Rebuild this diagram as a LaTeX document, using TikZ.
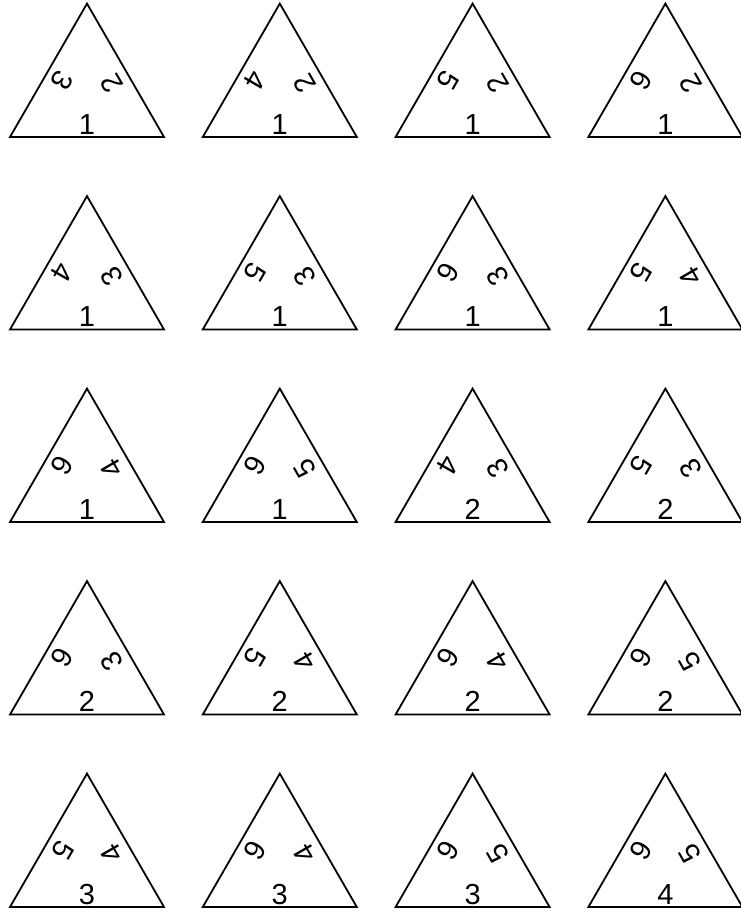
\documentclass[tikz,border=0pt]{standalone}
\usepackage{fontspec}
\setmainfont{Liberation Sans}
\usetikzlibrary{calc}
\begin{document}
\begin{tikzpicture}[x=1pt,y=1pt,
  tri/.style={draw=black,line width=1.8pt,line join=miter},
  num/.style={inner sep=0pt,font=\fontsize{29}{33}\selectfont}]
\useasboundingbox (0,-914) rectangle (740,0);
\foreach \b/\r/\l [count=\i from 0] in {1/2/3,1/2/4,1/2/5,1/2/6,
  1/3/4,1/3/5,1/3/6,1/4/5,
  1/4/6,1/5/6,2/3/4,2/3/5,
  2/3/6,2/4/5,2/4/6,2/5/6,
  3/4/5,3/4/6,3/5/6,4/5/6}{
  \pgfmathtruncatemacro\col{mod(\i,4)}
  \pgfmathtruncatemacro\row{div(\i,4)}
  \pgfmathsetmacro\cx{87+192.8*\col}
  \pgfmathsetmacro\by{-(137+192.5*\row)}
  \coordinate (A\i) at (\cx-77,\by);
  \coordinate (B\i) at (\cx+77,\by);
  \coordinate (C\i) at (\cx,\by+133.4);
  \coordinate (G\i) at (\cx,\by+44.46);
  \draw[tri] (A\i) -- (B\i) -- (C\i) -- cycle;
  \node[num] (bot\i) at ($(G\i)+(0,-31.5)$) {\b};
  \node[num,rotate=120] (rt\i) at ($(G\i)+(25,9)$) {\r};
  \node[num,rotate=-120] (lf\i) at ($(G\i)+(-24.5,12.5)$) {\l};
}
\end{tikzpicture}
\end{document}
